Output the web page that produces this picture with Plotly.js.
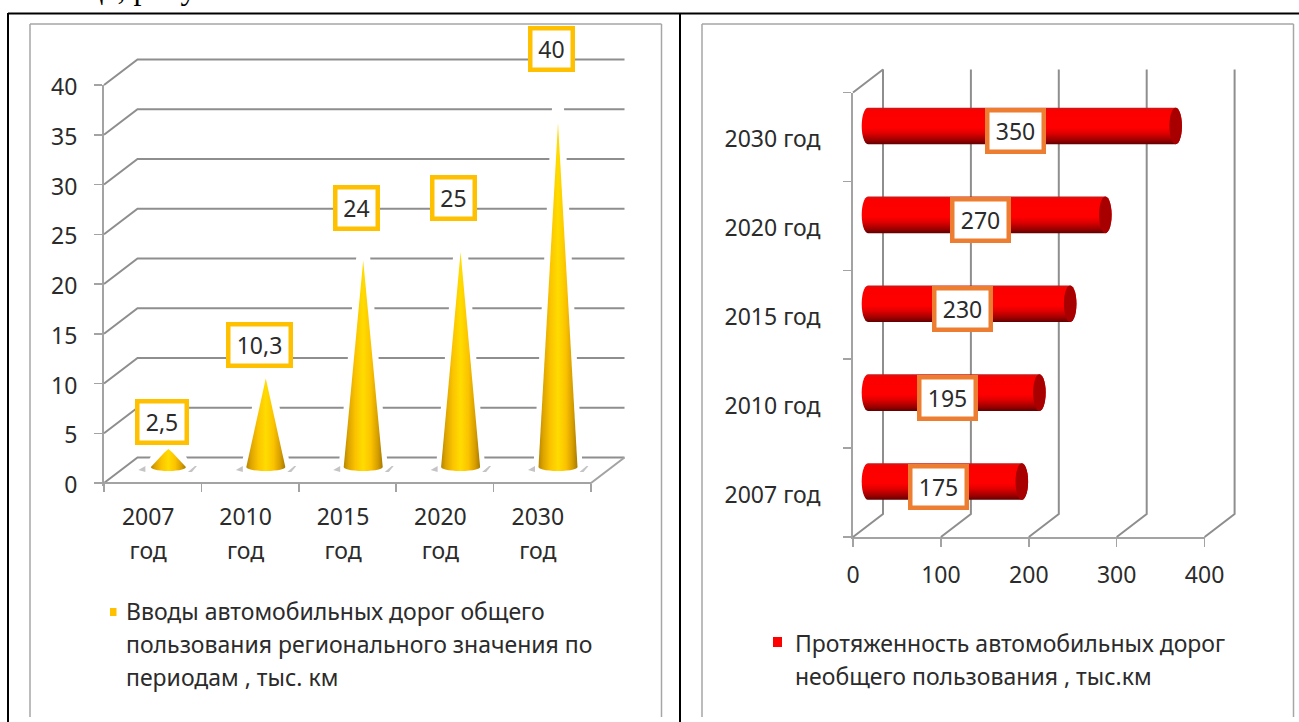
<!DOCTYPE html>
<html><head><meta charset="utf-8">
<script src="https://cdn.plot.ly/plotly-3.0.1.min.js"></script>
<style>html,body{margin:0;padding:0;background:#fff;overflow:hidden}</style>
</head><body><div id="chart" style="width:1299px;height:722px"></div>
<script>
// ---------- data ----------
const inputYears = ['2007', '2010', '2015', '2020', '2030'];
const inputValues = [2.5, 10.3, 24, 25, 40];
const inputLabels = ['2,5', '10,3', '24', '25', '40'];
const inputLegend = ['Вводы автомобильных дорог общего', 'пользования регионального значения по', 'периодам , тыс. км'];
const lengthCats = ['2007 год', '2010 год', '2015 год', '2020 год', '2030 год'];
const lengthValues = [175, 195, 230, 270, 350];
const lengthLegend = ['Протяженность автомобильных дорог', 'необщего пользования , тыс.км'];
const inputTicks = [0, 5, 10, 15, 20, 25, 30, 35, 40];
const lengthTicks = [0, 100, 200, 300, 400];

// ---------- geometry (page pixels) ----------
const W = 1299, H = 722;
const L = {x0: 104, x1: 591, y0: 483, y1: 85};
const R = {x0: 853, x1: 1204.6, y0: 537, y1: 92.5};
const FONT = '"Noto Sans", Lato, sans-serif';
const TXT = '#2b2b2b', AXIS = '#a3a3a3', GRID = '#8e8e8e';
const fs = 23, lineFs = 25.4;
const px = s => s / W, py = s => 1 - s / H;

const lcx = (L.x1 - L.x0) / 5, luy = (L.y0 - L.y1) / 40;   // px per category / per unit
const rux = (R.x1 - R.x0) / 400, rcy = (R.y0 - R.y1) / 5;
const lDepthX = 33.5 / lcx, lDepthY = 25.5 / luy;
const rDepthX = 30 / rux, rDepthY = 23 / rcy;

const traces = [];
// the 3D walls reach past the visible axes, so the marks live on hidden axes with the same scale and more room
function line(xs, ys, xa, ya, color) {
  traces.push({type: 'scatter', mode: 'lines', x: xs, y: ys, xaxis: xa, yaxis: ya, cliponaxis: false,
    line: {color: color || GRID, width: 2}, hoverinfo: 'skip', showlegend: false});
}
function fillShape(xs, ys, xa, ya, extra) {
  traces.push(Object.assign({type: 'scatter', mode: 'none', x: xs, y: ys, xaxis: xa, yaxis: ya, fill: 'toself',
    cliponaxis: false, hoverinfo: 'skip', showlegend: false}, extra));
}
// keep the visible subplots alive
traces.push({type: 'scatter', mode: 'none', x: [0], y: [0], xaxis: 'x', yaxis: 'y', hoverinfo: 'skip', showlegend: false});
traces.push({type: 'scatter', mode: 'none', x: [0], y: [0], xaxis: 'x2', yaxis: 'y2', hoverinfo: 'skip', showlegend: false});

// left: walls and gridlines
inputTicks.forEach(v => {
  line([-0.5, -0.5 + lDepthX, 4.5 + lDepthX], [v, v + lDepthY, v + lDepthY], 'x3', 'y3');
});
line([-0.5, 4.5, 4.5 + lDepthX], [0, 0, lDepthY], 'x3', 'y3', AXIS);

// left: cones
const coneGrad = {type: 'horizontal', colorscale: [[0, '#b58600'], [0.12, '#dda400'], [0.3, '#fbc300'], [0.5, '#ffdc00'],
  [0.7, '#fbc300'], [0.88, '#d59c00'], [1, '#a57a00']]};
const baseY = 16 / luy, coneX = 15.7 / lcx;
inputValues.forEach((v, i) => {
  const cx = i + coneX;
  const hw = (v < 5 ? 17.5 : 19.5) / lcx, rx = hw, ry = 4 / luy;
  const tip = baseY + v * 8.6 / luy;
  const dx = p => cx + p / lcx, dy = p => baseY - p / luy;
  // white glow
  fillShape([dx(-hw * lcx - 5), dx(-6), dx(6), dx(hw * lcx + 5), dx(hw * lcx + 5), dx(-hw * lcx - 5)],
    [dy(0), tip + 15 / luy, tip + 15 / luy, dy(0), dy(7), dy(7)], 'x3', 'y3', {fillcolor: '#ffffff'});
  // floor shadow marks
  fillShape([dx(-30), dx(-23), dx(-23)], [dy(3), dy(-1), dy(5)], 'x3', 'y3', {fillcolor: '#c4c4c4'});
  fillShape([dx(hw * lcx + 2), dx(hw * lcx + 9), dx(hw * lcx + 11), dx(hw * lcx + 6)],
    [dy(5), dy(-1), dy(-1), dy(5)], 'x3', 'y3', {fillcolor: '#c4c4c4'});
  // cone outline: base arc + apex
  const xs = [], ys = [];
  for (let k = 0; k <= 14; k++) {
    const a = Math.PI * k / 14;
    xs.push(cx - rx * Math.cos(a)); ys.push(baseY - ry * Math.sin(a));
  }
  if (v < 5) {
    xs.push(dx(4), cx, dx(-4)); ys.push(tip - 7 / luy, tip - 3.5 / luy, tip - 7 / luy);
  } else {
    xs.push(cx); ys.push(tip);
  }
  xs.push(xs[0]); ys.push(ys[0]);
  fillShape(xs, ys, 'x3', 'y3', {fillgradient: coneGrad, name: inputYears[i]});
});

// right: walls
lengthTicks.forEach((v, i) => {
  if (i === 0) line([v, v + rDepthX, v + rDepthX, v], [-0.5, -0.5 + rDepthY, 4.5 + rDepthY, 4.5], 'x4', 'y4');
  else line([v, v + rDepthX, v + rDepthX], [-0.5, -0.5 + rDepthY, 4.5 + rDepthY], 'x4', 'y4');
});

// right: cylinders
const barGrad = {type: 'vertical', colorscale: [[0, '#600000'], [0.1, '#960000'], [0.3, '#e00000'], [0.45, '#ff0000'],
  [0.92, '#fb0000'], [1, '#c81a1a']]};
const barOffX = 15 / rux, barOffY = 11 / rcy, barH = 18.3 / rcy, capR = 6.3 / rux;
lengthValues.forEach((v, i) => {
  const yc = i + barOffY, x0 = barOffX, x1 = v + barOffX;
  const xs = [], ys = [];
  for (let k = 0; k <= 14; k++) { const a = Math.PI * k / 14; xs.push(x0 - capR * Math.sin(a)); ys.push(yc + barH * Math.cos(a)); }
  for (let k = 0; k <= 14; k++) { const a = Math.PI * k / 14; xs.push(x1 + capR * Math.sin(a)); ys.push(yc - barH * Math.cos(a)); }
  xs.push(xs[0]); ys.push(ys[0]);
  fillShape(xs, ys, 'x4', 'y4', {fillgradient: barGrad, name: lengthCats[i]});
  const cxs = [], cys = [];
  for (let k = 0; k <= 28; k++) { const a = 2 * Math.PI * k / 28; cxs.push(x1 + capR * Math.sin(a)); cys.push(yc + barH * Math.cos(a)); }
  fillShape(cxs, cys, 'x4', 'y4', {fillcolor: '#a80000'});
});

// ---------- labels ----------
const annotations = [];
function box(text, xVal, xref, yPaper, w, color) {
  annotations.push({text: text, x: xVal, xref: xref, y: yPaper, yref: 'paper', xanchor: 'center', yanchor: 'middle',
    showarrow: false, bgcolor: '#ffffff', bordercolor: color, borderwidth: 4.5, borderpad: 0, width: w, height: 36.5,
    font: {family: FONT, size: fs, color: TXT}});
}
const lPaperY = v => (1 - L.y0 / H) + v * luy / H;
inputValues.forEach((v, i) => {
  box(inputLabels[i], i + 9 / lcx, 'x', lPaperY(v + 3.6), inputLabels[i].length > 3 ? 58 : (inputLabels[i].length > 2 ? 45 : 38), '#ffc000');
});
lengthValues.forEach((v, i) => {
  box(String(v), v / 2 + 10, 'x2', (1 - R.y0 / H) + (i + 0.5 + 6 / rcy) * rcy / H, 52, '#ed7d31');
});
function legendText(lines, x, y) {
  annotations.push({text: lines.map(t => '<span style="font-size:' + fs + 'px">' + t + '</span>').join('<br>'),
    x: px(x), xref: 'paper', y: py(y), yref: 'paper', xanchor: 'left', yanchor: 'top', align: 'left', showarrow: false,
    font: {family: FONT, size: lineFs, color: TXT}});
}
legendText(inputLegend, 124, 593);
legendText(lengthLegend, 793, 625);
annotations.push({text: 'таблице, рисунок 3.11', x: px(7), xref: 'paper', y: py(-32), yref: 'paper', xanchor: 'left', yanchor: 'top',
  showarrow: false, font: {family: '"Liberation Serif", serif', size: 32, color: '#000'}});

// ---------- frames ----------
const shapes = [];
function seg(x0, y0, x1, y1, color, width) {
  shapes.push({type: 'line', xref: 'paper', yref: 'paper', x0: px(x0), y0: py(y0), x1: px(x1), y1: py(y1), line: {color: color, width: width}, layer: 'below'});
}
[[30, 24, 30, 717], [30, 24, 661.5, 24], [661.5, 24, 661.5, 717], [702, 24, 702, 717], [702, 24, 1293.5, 24], [1293.5, 24, 1293.5, 717]]
  .forEach(s => seg(s[0], s[1], s[2], s[3], '#a6a6a6', 1.5));
[[8, 13.5, 1299, 13.5], [8, 13, 8, 722], [680, 13, 680, 722]].forEach(s => seg(s[0], s[1], s[2], s[3], '#000000', 2));
function square(x0, y0, x1, y1, c) {
  shapes.push({type: 'rect', xref: 'paper', yref: 'paper', x0: px(x0), x1: px(x1), y0: py(y0), y1: py(y1), fillcolor: c, line: {width: 0}});
}
square(110, 608, 116.5, 616, '#ffc000');
square(773, 637, 782, 647, '#ff0000');

const boundaries = [-0.5, 0.5, 1.5, 2.5, 3.5, 4.5];
const minorAt = vals => ({ticks: 'outside', tickmode: 'array', tickvals: vals, ticklen: 8, tickcolor: AXIS, tickwidth: 1.5, showgrid: false});
const axisBase = {showgrid: false, zeroline: false, showline: true, linecolor: AXIS, linewidth: 2, ticks: 'outside',
  tickcolor: AXIS, tickwidth: 1.5, tickfont: {family: FONT, size: fs, color: TXT}, fixedrange: true};
const m = 6, mx = 50, my = 40;   // spare room of the hidden axes, px
const labelDrop = 2;             // y tick labels sit this many px under their ticks
const layout = {
  width: W, height: H, autosize: false, margin: {l: 0, r: 0, t: 0, b: 0, pad: 0},
  paper_bgcolor: '#fff', plot_bgcolor: 'rgba(0,0,0,0)', showlegend: false, annotations: annotations, shapes: shapes,
  xaxis: Object.assign({}, axisBase, {domain: [px(L.x0), px(L.x1)], anchor: 'free', overlaying: false, position: py(L.y0), range: [-0.5, 4.5],
    tickmode: 'array', tickvals: inputYears.map((y, i) => i - 4.5 / lcx),
    ticktext: inputYears.map(y => '<span style="font-size:' + fs + 'px">' + y + '<br>год</span>'),
    ticks: '', ticklen: 0, minor: minorAt(boundaries), tickfont: {family: FONT, size: lineFs, color: TXT}, ticklabelstandoff: 11}),
  yaxis: Object.assign({}, axisBase, {domain: [py(L.y0 + labelDrop + 1), py(L.y1)], anchor: 'x', range: [-(labelDrop + 1) / luy, 40], tickmode: 'array',
    tickvals: inputTicks.map(v => v - labelDrop / luy), ticktext: inputTicks.map(String),
    ticks: '', ticklen: 0, minor: minorAt(inputTicks), ticklabelstandoff: 20}),
  xaxis2: Object.assign({}, axisBase, {domain: [px(R.x0), px(R.x1)], anchor: 'y2', range: [0, 400], tickmode: 'array', tickvals: lengthTicks,
    ticklen: 8, ticklabelstandoff: 8}),
  yaxis2: Object.assign({}, axisBase, {domain: [py(R.y0), py(R.y1)], anchor: 'x2', range: [-0.5, 4.5],
    tickmode: 'array', tickvals: lengthCats.map((c, i) => i - labelDrop / rcy), ticktext: lengthCats,
    ticks: '', ticklen: 0, minor: minorAt(boundaries), ticklabelstandoff: 26}),
  xaxis3: {visible: false, fixedrange: true, anchor: 'y3', domain: [px(L.x0 - m), px(L.x1 + mx)], range: [-0.5 - m / lcx, 4.5 + mx / lcx]},
  yaxis3: {visible: false, fixedrange: true, anchor: 'x3', domain: [py(L.y0 + m), py(L.y1 - my)], range: [-m / luy, 40 + my / luy]},
  xaxis4: {visible: false, fixedrange: true, anchor: 'y4', domain: [px(R.x0 - m), px(R.x1 + mx)], range: [-m / rux, 400 + mx / rux]},
  yaxis4: {visible: false, fixedrange: true, anchor: 'x4', domain: [py(R.y0 + m), py(R.y1 - my)], range: [-0.5 - m / rcy, 4.5 + my / rcy]}
};
Plotly.newPlot('chart', traces, layout, {displayModeBar: false, staticPlot: true});
</script></body></html>
